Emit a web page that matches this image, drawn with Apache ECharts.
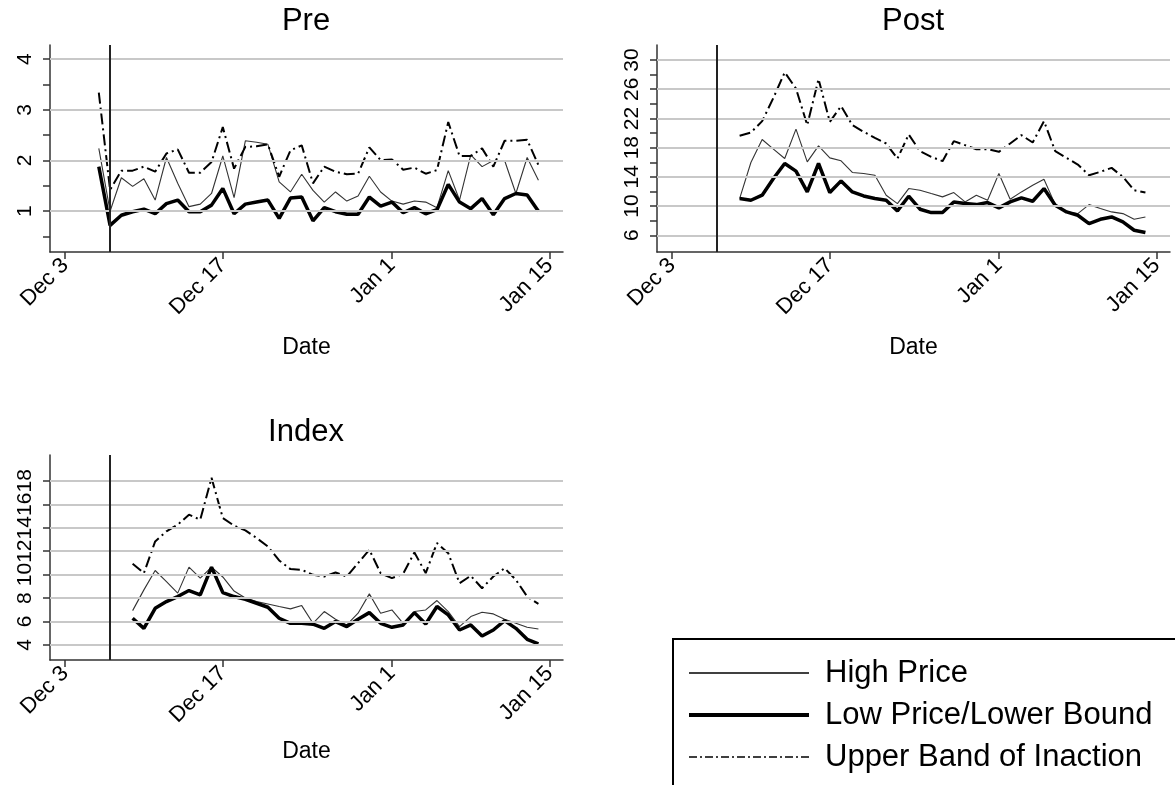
<!DOCTYPE html>
<html>
<head>
<meta charset="utf-8">
<script src="https://cdn.jsdelivr.net/npm/echarts@6/dist/echarts.min.js"></script>
<style>
html,body{margin:0;padding:0;background:#fff;}
#chart{width:1175px;height:785px;}
</style>
</head>
<body>
<div id="chart"></div>
<script>
const FONT = "'Liberation Sans', Arial, Helvetica, sans-serif";

// ---- dates ----
const preDates = ['2012-12-06','2012-12-07','2012-12-08','2012-12-09','2012-12-10','2012-12-11','2012-12-12','2012-12-13','2012-12-14','2012-12-15',
  '2012-12-16','2012-12-17','2012-12-18','2012-12-19','2012-12-20','2012-12-21','2012-12-22','2012-12-23','2012-12-24','2012-12-25',
  '2012-12-26','2012-12-27','2012-12-28','2012-12-29','2012-12-30','2012-12-31','2013-01-01','2013-01-02','2013-01-03','2013-01-04',
  '2013-01-05','2013-01-06','2013-01-07','2013-01-08','2013-01-09','2013-01-10','2013-01-11','2013-01-12','2013-01-13','2013-01-14'];
const postDates = ['2012-12-09','2012-12-10','2012-12-11','2012-12-12','2012-12-13','2012-12-14','2012-12-15',
  '2012-12-16','2012-12-17','2012-12-18','2012-12-19','2012-12-20','2012-12-21','2012-12-22','2012-12-23','2012-12-24','2012-12-25',
  '2012-12-26','2012-12-27','2012-12-28','2012-12-29','2012-12-30','2012-12-31','2013-01-01','2013-01-02','2013-01-03','2013-01-04',
  '2013-01-05','2013-01-06','2013-01-07','2013-01-08','2013-01-09','2013-01-10','2013-01-11','2013-01-12','2013-01-13','2013-01-14'];
const indexDates = postDates;
const eventDate = '2012-12-07';
const tickDates = ['2012-12-03','2012-12-17','2013-01-01','2013-01-15'];
const tickLabels = ['Dec 3','Dec 17','Jan 1','Jan 15'];

// ---- Pre ----
const preHigh = [2.24,1.00,1.66,1.49,1.64,1.22,2.06,1.55,1.09,1.14,1.35,2.09,1.27,2.39,2.36,2.32,1.58,1.38,1.73,1.41,
  1.18,1.38,1.20,1.30,1.69,1.38,1.20,1.14,1.20,1.18,1.07,1.80,1.22,2.11,1.88,2.00,2.00,1.35,2.06,1.61];
const preLow = [1.88,0.72,0.92,0.99,1.04,0.95,1.15,1.22,0.99,0.99,1.12,1.45,0.95,1.14,1.18,1.22,0.86,1.26,1.28,0.81,
  1.07,0.99,0.94,0.94,1.28,1.10,1.18,0.97,1.07,0.95,1.03,1.53,1.18,1.05,1.25,0.93,1.25,1.35,1.32,1.00];
const preUpper = [3.34,1.42,1.80,1.80,1.88,1.78,2.14,2.22,1.76,1.76,1.97,2.66,1.84,2.27,2.28,2.32,1.68,2.20,2.30,1.55,
  1.88,1.78,1.73,1.74,2.26,2.01,2.02,1.82,1.86,1.74,1.81,2.76,2.09,2.09,2.24,1.88,2.39,2.39,2.41,1.91];

// ---- Post ----
const postHigh = [11.03,15.97,19.12,17.80,16.51,20.54,16.06,18.25,16.60,16.20,14.60,14.46,14.23,11.49,10.34,12.40,
  12.17,11.71,11.26,11.85,10.57,11.49,10.80,14.46,10.94,11.94,12.86,13.68,10.20,9.20,8.97,10.20,9.66,9.20,8.97,8.19,8.51];
const postLow = [11.03,10.80,11.49,13.77,15.83,14.78,11.94,15.83,11.85,13.45,11.94,11.39,11.03,10.80,9.34,11.35,
  9.57,9.11,9.11,10.57,10.34,10.20,10.48,9.75,10.57,11.12,10.66,12.40,10.11,9.20,8.74,7.60,8.19,8.51,7.83,6.69,6.37];
const postUpper = [19.62,20.08,21.63,24.83,28.31,26.11,21.09,27.39,21.54,23.69,21.09,20.17,19.35,18.57,16.51,19.80,
  17.52,16.74,16.15,18.89,18.34,17.79,17.79,17.43,18.57,19.71,18.71,21.63,17.52,16.60,15.69,14.23,14.69,15.23,14.00,12.17,11.85];

// ---- Index ----
const indexHigh = [6.93,8.70,10.35,9.41,8.42,10.64,9.70,10.64,9.80,8.60,8.00,7.70,7.50,7.28,7.08,7.36,
  5.85,6.85,6.19,5.71,6.71,8.36,6.71,6.99,5.85,6.85,6.99,7.79,6.85,5.57,6.42,6.79,6.65,6.19,5.85,5.51,5.37];
const indexLow = [6.28,5.42,7.13,7.70,8.13,8.64,8.27,10.64,8.47,8.13,7.90,7.56,7.22,6.28,5.85,5.85,
  5.77,5.42,6.00,5.57,6.19,6.76,5.85,5.51,5.71,6.76,5.79,7.28,6.56,5.28,5.71,4.77,5.28,6.08,5.42,4.48,4.09];
const indexUpper = [10.92,10.13,12.83,13.69,14.26,15.11,14.68,18.25,14.83,14.17,13.77,13.12,12.40,11.21,10.47,10.41,
  9.98,9.84,10.18,9.84,10.98,12.12,10.13,9.70,10.07,11.89,10.13,12.69,11.83,9.27,9.90,8.84,9.84,10.55,9.56,8.13,7.50];

// ---- y axis ticks/labels ----
const preYLabels = [1,2,3,4];
const preYTicks = [0.5,1,1.5,2,2.5,3,3.5,4];
const postYLabels = [6,10,14,18,22,26,30];
const postYTicks = [6,8,10,12,14,16,18,20,22,24,26,28,30];
const indexYLabels = [4,6,8,10,12,14,16,18];
const indexYTicks = [4,6,8,10,12,14,16,18];

const seriesNames = ['High Price','Low Price/Lower Bound','Upper Band of Inaction'];
const panelTitles = ['Pre','Post','Index'];

// ---- helpers: x is measured in days since the first tick date ----
const DAY = 86400000;
function ts(s){ const p = s.split('-').map(Number); return Date.UTC(p[0], p[1]-1, p[2]); }
const origin = ts(tickDates[0]);
function dayNum(s){ return Math.round((ts(s) - origin) / DAY); }
const tickDays = tickDates.map(dayNum);
const xMin = tickDays[0] - 1.33;
const xMax = tickDays[tickDays.length-1] + 1.18;

const AX = '#333';
const STYLES = [
  {color:'#333', width:1.1, type:'solid'},
  {color:'#000', width:3.5, type:'solid'},
  {color:'#000', width:2, type:[11,4,2,4]}
];
function makeX(gi, gap){
  return {
    type:'value', gridIndex:gi, min:xMin, max:xMax,
    name:'Date', nameLocation:'middle', nameGap:gap,
    nameTextStyle:{fontSize:23, fontFamily:FONT, color:'#000'},
    axisLine:{show:true, onZero:false, lineStyle:{color:AX, width:1.5}},
    axisTick:{show:true, length:7, customValues:tickDays, lineStyle:{color:AX, width:1.5}},
    axisLabel:{show:true, customValues:tickDays, rotate:45, margin:10, fontSize:22, fontFamily:FONT, color:'#000',
      showMinLabel:true, showMaxLabel:true, hideOverlap:false,
      formatter:function(v){ let best=0, bd=Infinity; tickDays.forEach((t,i)=>{const d=Math.abs(t-v); if(d<bd){bd=d;best=i;}}); return tickLabels[best]; }},
    splitLine:{show:false}
  };
}
function makeY(gi, min, max, labels, ticks){
  return {
    type:'value', gridIndex:gi, min:min, max:max,
    axisLine:{show:true, onZero:false, lineStyle:{color:AX, width:1.5}},
    axisTick:{show:true, length:7, customValues:ticks, lineStyle:{color:AX, width:1.5}},
    axisLabel:{show:true, customValues:labels, rotate:90, margin:14, fontSize:21, fontFamily:FONT, color:'#000',
      showMinLabel:true, showMaxLabel:true, hideOverlap:false},
    splitLine:{show:false}
  };
}
function pairs(dates, vals){ return dates.map((d,i)=>[dayNum(d), vals[i]]); }

function panelSeries(gi, dates, high, low, upper, gridVals){
  const common = {type:'line', xAxisIndex:gi, yAxisIndex:gi, symbol:'none', showSymbol:false, animation:false, silent:true,
    itemStyle:{color:'#000'}};
  return [
    Object.assign({}, common, {
      name:'_grid'+gi, data:[[xMin, null]], z:1,
      markLine:{silent:true, symbol:['none','none'], label:{show:false}, animation:false,
        lineStyle:{color:'#c8c8c8', width:2, type:'solid'},
        data: gridVals.map(v=>({yAxis:v})).concat([{xAxis:dayNum(eventDate), lineStyle:{color:'#222', width:2, type:'solid'}}])
      }
    }),
    Object.assign({}, common, {name:seriesNames[0], z:3, data:pairs(dates, high), lineStyle:STYLES[0]}),
    Object.assign({}, common, {name:seriesNames[1], z:4, data:pairs(dates, low), lineStyle:STYLES[1]}),
    Object.assign({}, common, {name:seriesNames[2], z:3, data:pairs(dates, upper), lineStyle:STYLES[2]})
  ];
}

const option = {
  animation:false,
  backgroundColor:'#fff',
  textStyle:{fontFamily:FONT},
  grid:[
    {left:50, top:45, width:513, height:207, outerBoundsMode:'none', containLabel:false},
    {left:657, top:45, width:513, height:207, outerBoundsMode:'none', containLabel:false},
    {left:50, top:455, width:513, height:205, outerBoundsMode:'none', containLabel:false}
  ],
  xAxis:[makeX(0,84), makeX(1,84), makeX(2,80)],
  yAxis:[
    makeY(0, 0.195, 4.28, preYLabels, preYTicks),
    makeY(1, 3.71, 32.06, postYLabels, postYTicks),
    makeY(2, 2.72, 20.2, indexYLabels, indexYTicks)
  ],
  legend:{
    orient:'vertical', left:682, top:651, padding:5, itemWidth:120, itemHeight:14, itemGap:8,
    selectedMode:false,
    itemStyle:{opacity:0},
    data:[
      {name:seriesNames[0], itemStyle:{opacity:0}, lineStyle:{color:'#000', width:1.5, type:'solid'}},
      {name:seriesNames[1], itemStyle:{opacity:0}, lineStyle:{color:'#000', width:4, type:'solid'}},
      {name:seriesNames[2], itemStyle:{opacity:0}, lineStyle:{color:'#000', width:1.6, type:[8,3,2,3]}}
    ],
    textStyle:{fontSize:31, fontFamily:FONT, color:'#000', padding:[0,0,0,11], lineHeight:34}
  },
  graphic:[
    {type:'rect', shape:{x:673, y:639, width:540, height:200}, style:{fill:'none', stroke:'#000', lineWidth:2}, silent:true, z:0},
    {type:'text', x:306, y:21, style:{text:panelTitles[0], fontSize:31, fontFamily:FONT, fill:'#000', align:'center', verticalAlign:'middle'}},
    {type:'text', x:913, y:21, style:{text:panelTitles[1], fontSize:31, fontFamily:FONT, fill:'#000', align:'center', verticalAlign:'middle'}},
    {type:'text', x:306, y:432, style:{text:panelTitles[2], fontSize:31, fontFamily:FONT, fill:'#000', align:'center', verticalAlign:'middle'}}
  ],
  series:[].concat(
    panelSeries(0, preDates, preHigh, preLow, preUpper, preYLabels),
    panelSeries(1, postDates, postHigh, postLow, postUpper, postYLabels),
    panelSeries(2, indexDates, indexHigh, indexLow, indexUpper, indexYLabels)
  )
};

const chart = echarts.init(document.getElementById('chart'), null, {renderer:'canvas'});
chart.setOption(option);
</script>
</body>
</html>
